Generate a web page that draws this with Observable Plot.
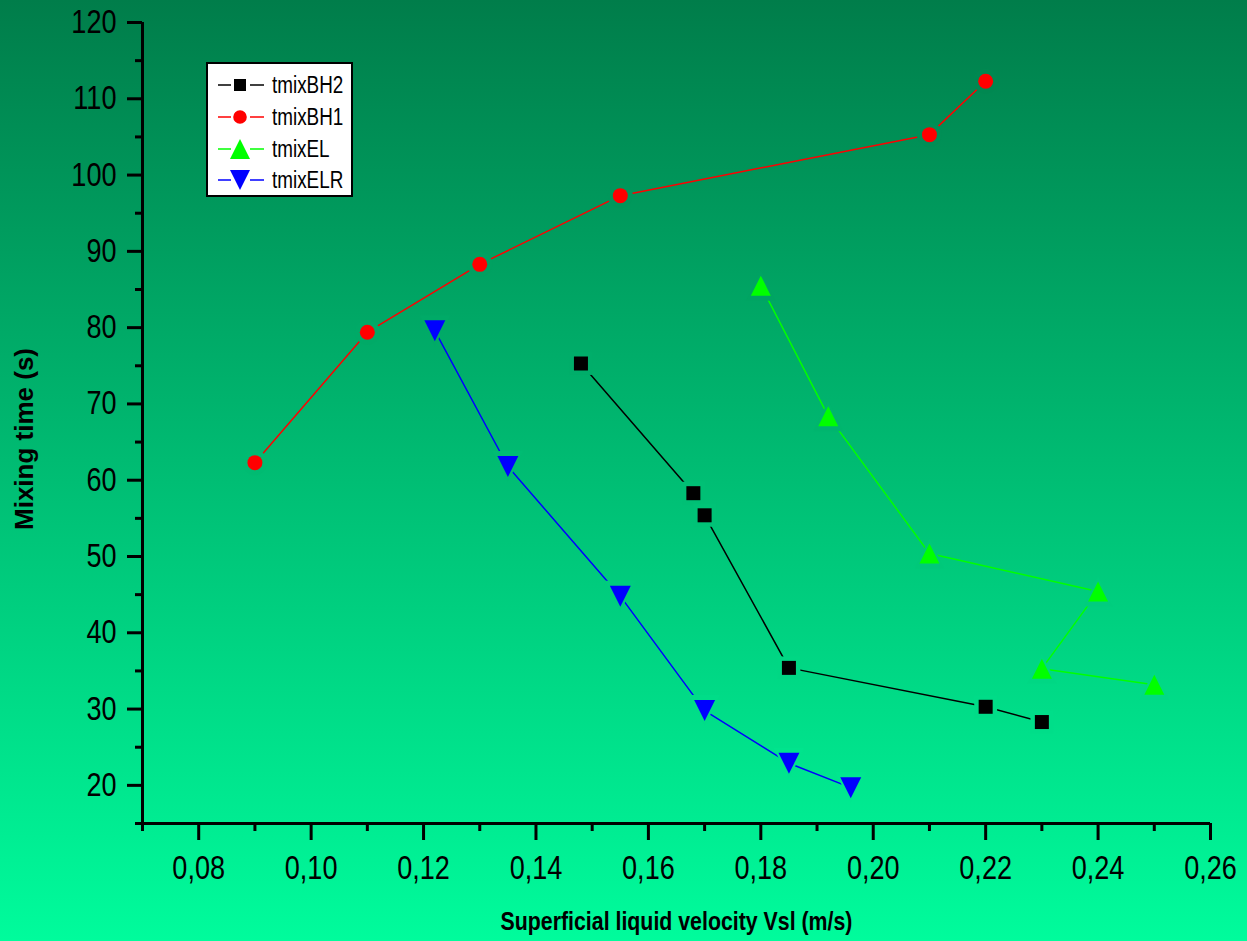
<!DOCTYPE html>
<html>
<head>
<meta charset="utf-8">
<script src="https://cdn.jsdelivr.net/npm/d3@7"></script>
<script src="https://cdn.jsdelivr.net/npm/@observablehq/plot@0.6"></script>
<style>
  html, body { margin: 0; padding: 0; }
  body { width: 1247px; height: 941px; overflow: hidden; }
  #chart svg { display: block; }
</style>
</head>
<body>
<div id="chart"></div>
<script>
// ---- data ----
const seriesNames = ["tmixBH2", "tmixBH1", "tmixEL", "tmixELR"];
const seriesColors = ["#000000", "#ff0000", "#00ff00", "#0000ff"];

const bh2X = [0.148, 0.168, 0.170, 0.185, 0.220, 0.230];
const bh2Y = [75.3, 58.3, 55.4, 35.4, 30.3, 28.3];

const bh1X = [0.090, 0.110, 0.130, 0.155, 0.210, 0.220];
const bh1Y = [62.3, 79.4, 88.3, 97.3, 105.3, 112.3];

const elX = [0.180, 0.192, 0.210, 0.240, 0.230, 0.250];
const elY = [85.5, 68.4, 50.4, 45.4, 35.3, 33.2];

const elrX = [0.122, 0.135, 0.155, 0.170, 0.185, 0.196];
const elrY = [79.6, 61.8, 44.8, 29.8, 22.9, 19.7];

const xMajor = [0.08, 0.10, 0.12, 0.14, 0.16, 0.18, 0.20, 0.22, 0.24, 0.26];
const xMinor = [0.07, 0.09, 0.11, 0.13, 0.15, 0.17, 0.19, 0.21, 0.23, 0.25];
const yMajor = [20, 30, 40, 50, 60, 70, 80, 90, 100, 110, 120];
const yMinor = [15, 25, 35, 45, 55, 65, 75, 85, 95, 105, 115];

const xTitle = "Superficial liquid velocity Vsl (m/s)";
const yTitle = "Mixing time (s)";

// ---- build table ----
const allX = [bh2X, bh1X, elX, elrX];
const allY = [bh2Y, bh1Y, elY, elrY];
const rows = [];
seriesNames.forEach((s, i) => {
  allX[i].forEach((x, j) => rows.push({series: s, x, y: allY[i][j]}));
});

// custom symbols
const triUp = {draw(ctx, size) { const r = Math.sqrt(size / Math.PI); ctx.moveTo(0, -r); ctx.lineTo(r, r); ctx.lineTo(-r, r); ctx.closePath(); }};
const triDown = {draw(ctx, size) { const r = Math.sqrt(size / Math.PI); ctx.moveTo(0, r); ctx.lineTo(r, -r); ctx.lineTo(-r, -r); ctx.closePath(); }};
const symbols = [d3.symbolSquare, d3.symbolCircle, triUp, triDown];
const radii = [7.9, 7.5, 10, 10.5];

const TOP = "#007d4a", BOTTOM = "#00fc9c";
const HALO_TAG = "#010203", YTITLE_TAG = "#000001";
const font = "'Liberation Sans', Arial, sans-serif";
const fmt = d => d3.format(".2f")(d).replace(".", ",");

const dotMarks = [];
const haloMarks = [];
seriesNames.forEach((s, i) => {
  const data = rows.filter(d => d.series === s);
  haloMarks.push(Plot.dot(data, {x: "x", y: "y", symbol: () => symbols[i], r: radii[i] + 5, fill: HALO_TAG, stroke: "none"}));
  dotMarks.push(Plot.dot(data, {x: "x", y: "y", symbol: () => symbols[i], r: radii[i], fill: seriesColors[i], stroke: "none"}));
});

const chart = Plot.plot({
  width: 1247,
  height: 941,
  marginLeft: 142,
  marginRight: 37,
  marginTop: 22,
  marginBottom: 118,
  x: {domain: [0.07, 0.26]},
  y: {domain: [15, 120]},
  symbol: {type: "identity"},
  style: {background: `linear-gradient(to bottom, ${TOP}, ${BOTTOM})`, fontFamily: font, color: "#000", overflow: "visible"},
  marks: [
    Plot.axisX({ticks: xMajor, tickSize: 17, tickPadding: 15, tickFormat: fmt, fontSize: 33, strokeWidth: 3, label: null}),
    Plot.axisX({ticks: xMinor, tickSize: 8, tickFormat: () => "", strokeWidth: 3, label: null}),
    Plot.axisY({ticks: yMajor, tickSize: 15, tickPadding: 11, tickFormat: d => String(d), fontSize: 33, strokeWidth: 3, label: null}),
    Plot.axisY({ticks: yMinor, tickSize: 7, tickFormat: () => "", strokeWidth: 3, label: null}),
    Plot.ruleY([15], {strokeWidth: 3}),
    Plot.ruleX([0.07], {strokeWidth: 3}),
    Plot.line(rows, {x: "x", y: "y", z: "series", stroke: "series", strokeWidth: 1.5}),
    ...haloMarks,
    ...dotMarks,
    Plot.text([xTitle], {frameAnchor: "bottom", dy: 106, fontSize: 26, fontWeight: "bold", lineAnchor: "bottom"}),
    Plot.text([yTitle], {frameAnchor: "left", textAnchor: "middle", dx: -118, dy: 16, rotate: -90, fontSize: 26, fontWeight: "bold", fill: YTITLE_TAG})
  ],
  color: {domain: seriesNames, range: seriesColors}
});

document.getElementById("chart").appendChild(chart);
const svg = d3.select(chart);
const svgTop = chart.getBoundingClientRect().top;

// marker halos take the local background colour
const bgAt = d3.interpolateRgb(TOP, BOTTOM);
svg.selectAll("path").each(function() {
  const g = this.parentNode;
  const f = (this.getAttribute("fill") || (g && g.getAttribute && g.getAttribute("fill")) || "").toLowerCase();
  if (f !== HALO_TAG) return;
  const b = this.getBoundingClientRect();
  const cy = b.top + b.height / 2 - svgTop;
  this.setAttribute("fill", bgAt(cy / 941));
});

// legend
const lg = svg.append("g").attr("text-anchor", "start");
lg.append("rect").attr("x", 207).attr("y", 63).attr("width", 145).attr("height", 133)
  .attr("fill", "#fff").attr("stroke", "#000").attr("stroke-width", 2);
const legendSizes = [6.8, 6.8, 10, 10];
const rowY = [85, 117, 149, 180];
seriesNames.forEach((s, i) => {
  const y = rowY[i];
  lg.append("line").attr("x1", 218).attr("x2", 231).attr("y1", y).attr("y2", y).attr("stroke", seriesColors[i]).attr("stroke-width", 1.5);
  lg.append("line").attr("x1", 250).attr("x2", 264).attr("y1", y).attr("y2", y).attr("stroke", seriesColors[i]).attr("stroke-width", 1.5);
  const r = legendSizes[i];
  lg.append("path").attr("d", d3.symbol(symbols[i], Math.PI * r * r)()).attr("transform", `translate(240,${y})`).attr("fill", seriesColors[i]);
  lg.append("text").attr("x", 272).attr("y", y + 8).attr("font-size", 23).attr("font-family", font).attr("fill", "#000").text(s);
});

// the reference text is horizontally condensed (about 82%); the rotated y title is not
svg.selectAll("text").each(function() {
  if (!this.textContent) return;
  const own = (this.getAttribute("fill") || "").toLowerCase();
  const par = ((this.parentNode && this.parentNode.getAttribute && this.parentNode.getAttribute("fill")) || "").toLowerCase();
  if (own === YTITLE_TAG || par === YTITLE_TAG) {
    this.setAttribute("fill", "#000");
    if (this.parentNode && par === YTITLE_TAG) this.parentNode.setAttribute("fill", "#000");
    return;
  }
  const len = this.getComputedTextLength();
  if (len > 0) {
    this.setAttribute("textLength", (len * 0.82).toFixed(1));
    this.setAttribute("lengthAdjust", "spacingAndGlyphs");
  }
});
</script>
</body>
</html>
